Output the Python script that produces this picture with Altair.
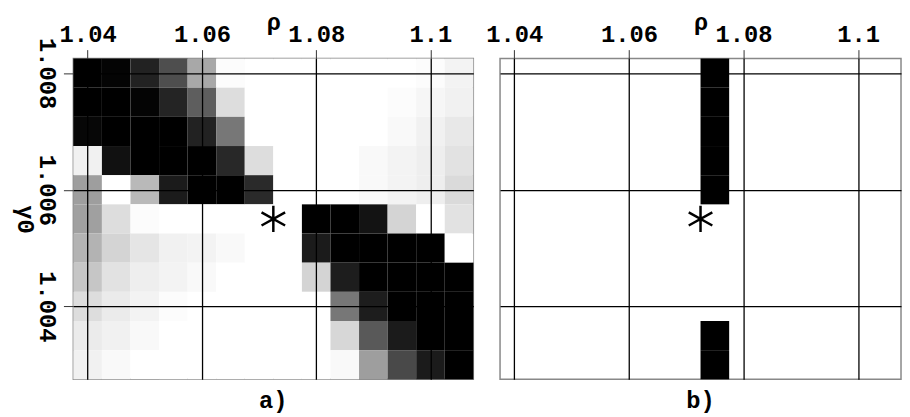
import altair as alt
import pandas as pd

# Cell centres
rho_centers = [1.040, 1.045, 1.050, 1.055, 1.060, 1.065, 1.070,
               1.075, 1.080, 1.085, 1.090, 1.095, 1.100, 1.105]
gamma_centers = [1.0080, 1.0075, 1.0070, 1.0065, 1.0060, 1.0055,
                 1.0050, 1.0045, 1.0040, 1.0035, 1.0030]

# Panel a) darkness (0 = white, 1 = black), rows top -> bottom
row_1008 = [1.00, 0.99, 0.87, 0.67, 0.31, 0.01, 0, 0, 0, 0, 0, 0, 0.01, 0.04]
row_10075 = [1.00, 1.00, 0.99, 0.86, 0.60, 0.12, 0, 0, 0, 0, 0, 0.01, 0.03, 0.05]
row_1007 = [0.98, 1.00, 1.00, 1.00, 0.87, 0.50, 0, 0, 0, 0, 0, 0.02, 0.05, 0.08]
row_10065 = [0.05, 0.95, 1.00, 1.00, 1.00, 0.84, 0.12, 0, 0, 0, 0.02, 0.04, 0.06, 0.10]
row_1006 = [0.35, 0, 0.25, 0.90, 1.00, 1.00, 0.83, 0, 0, 0, 0.02, 0.04, 0.06, 0.13]
row_10055 = [0.34, 0.12, 0.01, 0, 0, 0, 0, 0, 1.00, 1.00, 0.94, 0.15, 0, 0.10]
row_1005 = [0.27, 0.15, 0.09, 0.05, 0.04, 0.02, 0, 0, 0.90, 1.00, 1.00, 1.00, 1.00, 0]
row_10045 = [0.20, 0.10, 0.06, 0.04, 0.02, 0, 0, 0, 0.15, 0.89, 1.00, 1.00, 1.00, 1.00]
row_1004 = [0.12, 0.07, 0.04, 0.01, 0, 0, 0, 0, 0, 0.50, 0.89, 1.00, 1.00, 1.00]
row_10035 = [0.07, 0.05, 0.02, 0, 0, 0, 0, 0, 0, 0.14, 0.62, 0.90, 1.00, 1.00]
row_1003 = [0.05, 0.02, 0, 0, 0, 0, 0, 0, 0, 0.02, 0.35, 0.69, 0.90, 1.00]
panel_a_rows = [row_1008, row_10075, row_1007, row_10065, row_1006, row_10055,
                row_1005, row_10045, row_1004, row_10035, row_1003]

# Panel b) black cells (rho, gamma0)
panel_b_rho = [1.075, 1.075, 1.075, 1.075, 1.075, 1.075, 1.075]
panel_b_gamma = [1.0080, 1.0075, 1.0070, 1.0065, 1.0060, 1.0035, 1.0030]
panel_b_value = [1, 1, 1, 1, 1, 1, 1]

# Star marker position
star_rho = [1.0725]
star_gamma = [1.0055]

x_ticks = [1.04, 1.06, 1.08, 1.1]
y_ticks = [1.004, 1.006, 1.008]

FONT = "Liberation Mono"
CELL_W = 0.005
CELL_H = 0.0005

rows = []
for g, vals in zip(gamma_centers, panel_a_rows):
    for r, v in zip(rho_centers, vals):
        rows.append({"rho": r, "gamma": g, "v": v})
df_a = pd.DataFrame(rows)
df_b = pd.DataFrame({"rho": panel_b_rho, "gamma": panel_b_gamma, "v": panel_b_value})
df_star = pd.DataFrame({"rho": star_rho, "gamma": star_gamma})

x_scale = alt.Scale(domain=[1.0375, 1.1075], nice=False, zero=False)
y_scale = alt.Scale(domain=[1.00275, 1.00825], nice=False, zero=False)
color = alt.Color("v:Q", scale=alt.Scale(domain=[0, 1], range=["#ffffff", "#000000"]),
                  legend=None)

x_axis = alt.Axis(orient="top", values=x_ticks, format="~g", title="ρ", grid=True,
                  gridColor="#000000", gridWidth=1.3, tickColor="#333333", tickSize=9,
                  domain=False, labelFont=FONT, labelFontSize=24, labelFontWeight="bold",
                  labelColor="#000000", labelBaseline="alphabetic", labelPadding=8,
                  titleFont=FONT, titleFontSize=24, titleFontWeight="bold",
                  titleColor="#000000", titleBaseline="alphabetic", titleY=-29,
                  zindex=1)

y_axis_a = alt.Axis(orient="left", values=y_ticks, format="~g", title="γ0", grid=True,
                    gridColor="#000000", gridWidth=1.3, tickColor="#333333", tickSize=10,
                    domain=False, labelFont=FONT, labelFontSize=24, labelFontWeight="bold",
                    labelColor="#000000", labelAngle=90, labelAlign="center",
                    labelBaseline="top", labelPadding=5,
                    titleFont=FONT, titleFontSize=24, titleFontWeight="bold",
                    titleColor="#000000", titleAngle=90, titleAlign="center",
                    titleBaseline="top", titleX=-37, titleY=162, zindex=1)

y_axis_b = alt.Axis(orient="left", values=y_ticks, grid=True, gridColor="#000000",
                    gridWidth=1.3, ticks=False, labels=False, domain=False, title=None,
                    zindex=1)

star_path = "M0,-1L0,1M-0.9,-0.5L0.9,0.5M-0.9,0.5L0.9,-0.5"


def panel(df, y_axis, label, width):
    rect = alt.Chart(df).transform_calculate(
        x1=f"datum.rho - {CELL_W / 2}", x2=f"datum.rho + {CELL_W / 2}",
        y1=f"datum.gamma - {CELL_H / 2}", y2=f"datum.gamma + {CELL_H / 2}",
    ).mark_rect(strokeWidth=0).encode(
        x=alt.X("x1:Q", scale=x_scale, axis=x_axis),
        x2="x2:Q",
        y=alt.Y("y1:Q", scale=y_scale, axis=y_axis),
        y2="y2:Q",
        color=color,
    )
    star = alt.Chart(df_star).mark_point(
        shape=star_path, size=700, filled=False, stroke="#000000",
        strokeWidth=2.5, opacity=1,
    ).encode(
        x=alt.X("rho:Q", scale=x_scale),
        y=alt.Y("gamma:Q", scale=y_scale),
    )
    return alt.layer(rect, star).properties(
        width=width, height=324,
        title=alt.TitleParams(label, orient="bottom", anchor="middle", frame="group",
                              font=FONT, fontSize=24, fontWeight="bold",
                              color="#000000", offset=10, baseline="top"),
    )


chart_a = panel(df_a, y_axis_a, "a)", 404)
chart_b = panel(df_b, y_axis_b, "b)", 405)

chart = alt.hconcat(chart_a, chart_b, spacing=27, bounds="flush").properties(
    padding={"left": 4, "top": 0, "right": 0, "bottom": 0},
    background="#ffffff",
).configure_view(
    stroke="#888888", strokeWidth=1.5,
)

chart.save("out.html", embed_options={"renderer": "svg", "actions": False})
